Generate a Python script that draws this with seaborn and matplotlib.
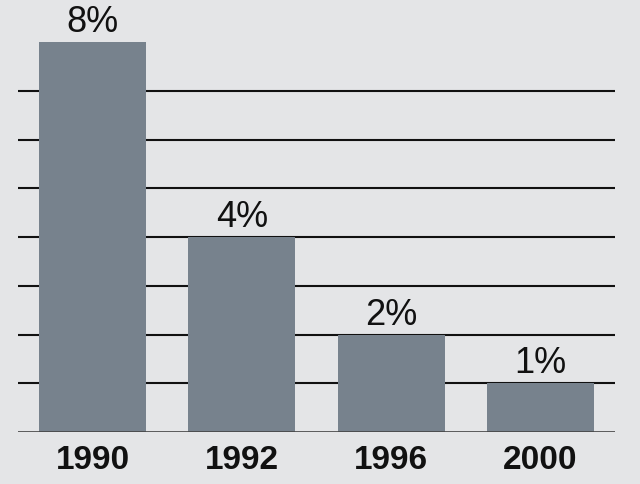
import matplotlib
matplotlib.use("Agg")
import matplotlib.pyplot as plt
import seaborn as sns
import pandas as pd

years = ["1990", "1992", "1996", "2000"]
values = [8, 4, 2, 1]
labels = ["8%", "4%", "2%", "1%"]

df = pd.DataFrame({"year": years, "value": values})

sns.set_theme(style="white")
plt.rcParams['font.family'] = ['Liberation Sans', 'DejaVu Sans']

bg = "#e4e5e7"
fig = plt.figure(figsize=(6.4, 4.85), dpi=100, facecolor=bg)
ax = fig.add_axes([18/640, (485-433)/485, (615-18)/640, 433/485])
ax.set_facecolor(bg)

for v in range(1, 8):
    ax.axhline(v, color="#111111", lw=1.5, zorder=0)
ax.axhline(0, color="#444444", lw=1.2, zorder=3)

sns.barplot(data=df, x="year", y="value", color="#77828d", saturation=1,
            width=0.717, ax=ax, zorder=2)
for p in ax.patches:
    p.set_edgecolor("none")

ax.set_xlim(-0.5, 3.5)
ax.set_ylim(0, 433/48.75)
for i, (v, lab) in enumerate(zip(values, labels)):
    ax.text(i, v + 0.06, lab, ha="center", va="bottom", fontsize=26, color="#111111")

ax.set_xlabel("")
ax.set_ylabel("")
ax.set_yticks([])
ax.tick_params(axis="x", length=0, pad=9)
for t in ax.get_xticklabels():
    t.set_fontsize(24)
    t.set_fontweight("bold")
    t.set_color("#111111")
for s in ax.spines.values():
    s.set_visible(False)

fig.savefig("out.png", dpi=100, facecolor=bg)
